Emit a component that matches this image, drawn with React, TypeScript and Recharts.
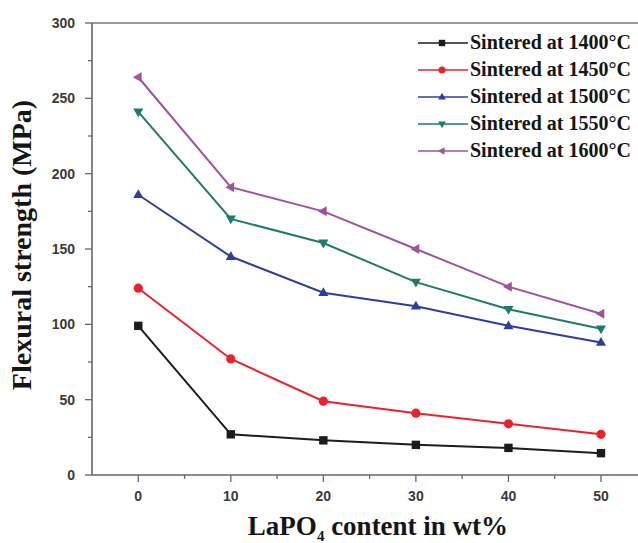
import React from 'react';
import { LineChart, Line, XAxis, YAxis, ReferenceLine } from 'recharts';

const contents = [0, 10, 20, 30, 40, 50];
const s1400 = [99, 27, 23, 20, 18, 14.5];
const s1450 = [124, 77, 49, 41, 34, 27];
const s1500 = [186, 145, 121, 112, 99, 88];
const s1550 = [241, 170, 154, 128, 110, 97];
const s1600 = [264, 191, 175, 150, 125, 107];

const seriesNames = [
  'Sintered at 1400°C',
  'Sintered at 1450°C',
  'Sintered at 1500°C',
  'Sintered at 1550°C',
  'Sintered at 1600°C',
];
const seriesKeys = ['s1400', 's1450', 's1500', 's1550', 's1600'];
const seriesValues = [s1400, s1450, s1500, s1550, s1600];
const colors = ['#1c1c1c', '#e8232b', '#2d3f9c', '#1d7a6c', '#a0529b'];
const shapes = ['square', 'circle', 'triangleUp', 'triangleDown', 'triangleLeft'];

const xTicks = [0, 5, 10, 15, 20, 25, 30, 35, 40, 45, 50];
const yTicks = [0, 25, 50, 75, 100, 125, 150, 175, 200, 225, 250, 275, 300];

const data = contents.map((c, i) => {
  const row: Record<string, number> = { x: c };
  seriesKeys.forEach((k, j) => {
    row[k] = seriesValues[j][i];
  });
  return row;
});

function Marker({ shape, cx, cy, color, r }: { shape: string; cx: number; cy: number; color: string; r: number }) {
  if (cx == null || cy == null) return null;
  switch (shape) {
    case 'square':
      return <rect x={cx - r} y={cy - r} width={2 * r} height={2 * r} fill={color} />;
    case 'circle':
      return <circle cx={cx} cy={cy} r={r * 1.1} fill={color} />;
    case 'triangleUp':
      return (
        <polygon
          points={`${cx},${cy - r * 1.3} ${cx - r * 1.2},${cy + r * 0.8} ${cx + r * 1.2},${cy + r * 0.8}`}
          fill={color}
        />
      );
    case 'triangleDown':
      return (
        <polygon
          points={`${cx},${cy + r * 1.3} ${cx - r * 1.2},${cy - r * 0.8} ${cx + r * 1.2},${cy - r * 0.8}`}
          fill={color}
        />
      );
    case 'triangleLeft':
    default:
      return (
        <polygon
          points={`${cx - r * 1.3},${cy} ${cx + r * 0.8},${cy - r * 1.2} ${cx + r * 0.8},${cy + r * 1.2}`}
          fill={color}
        />
      );
  }
}

const XTick = (props: any) => {
  const { x, y, payload } = props;
  const major = payload.value % 10 === 0;
  return (
    <g>
      <line x1={x} x2={x} y1={y} y2={y + (major ? 7 : 4)} stroke="#666" strokeWidth={1.3} />
      {major && (
        <text
          x={x}
          y={y + 26}
          textAnchor="middle"
          fontFamily="'Liberation Sans', Arial, sans-serif"
          fontWeight="bold"
          fontSize={14}
          fill="#3a3a3a"
        >
          {payload.value}
        </text>
      )}
    </g>
  );
};

const YTick = (props: any) => {
  const { x, y, payload } = props;
  const major = payload.value % 50 === 0;
  return (
    <g>
      <line x1={x - (major ? 7 : 4)} x2={x} y1={y} y2={y} stroke="#666" strokeWidth={1.3} />
      {major && (
        <text
          x={x - 17}
          y={y + 5}
          textAnchor="end"
          fontFamily="'Liberation Sans', Arial, sans-serif"
          fontWeight="bold"
          fontSize={14}
          fill="#3a3a3a"
        >
          {payload.value}
        </text>
      )}
    </g>
  );
};

const LegendBox = () => (
  <div style={{ position: 'absolute', top: 29, left: 416, width: 222 }}>
    {seriesNames.map((name, i) => (
      <div key={name} style={{ display: 'flex', alignItems: 'center', height: 27 }}>
        <svg width={54} height={16} style={{ display: 'block' }}>
          <line x1={2} x2={52} y1={8} y2={8} stroke={colors[i]} strokeWidth={1.6} />
          <Marker shape={shapes[i]} cx={26} cy={8} color={colors[i]} r={3.2} />
        </svg>
        <span
          style={{
            fontFamily: "'Liberation Serif', 'Times New Roman', serif",
            fontWeight: 'bold',
            fontSize: 20,
            color: '#151515',
            lineHeight: '27px',
            whiteSpace: 'nowrap',
          }}
        >
          {name}
        </span>
      </div>
    ))}
  </div>
);

export default function App() {
  return (
    <div style={{ position: 'absolute', left: 0, top: 0, width: 638, height: 543, background: '#fff', overflow: 'hidden' }}>
      <LineChart width={638} height={543} data={data} margin={{ top: 23, right: 0, left: 0, bottom: 0 }}>
        <XAxis
          type="number"
          dataKey="x"
          domain={[-5, 54]}
          ticks={xTicks}
          interval={0}
          height={68}
          tickSize={0}
          tickMargin={0}
          tickLine={false}
          axisLine={{ stroke: '#666', strokeWidth: 1.6 }}
          tick={<XTick />}
          label={{
            content: () => (
              <text
                x={378}
                y={535}
                textAnchor="middle"
                fontFamily="'Liberation Serif', 'Times New Roman', serif"
                fontWeight="bold"
                fontSize={27}
                fill="#151515"
              >
                LaPO
                <tspan fontSize={15} dy={6}>4</tspan>
                <tspan dy={-6}>{'  content in wt%'}</tspan>
              </text>
            ),
          }}
        />
        <YAxis
          type="number"
          domain={[0, 300]}
          ticks={yTicks}
          interval={0}
          width={92}
          tickSize={0}
          tickMargin={0}
          tickLine={false}
          axisLine={{ stroke: '#666', strokeWidth: 1.6 }}
          tick={<YTick />}
          label={{
            content: () => (
              <text
                x={31}
                y={245}
                transform="rotate(-90 31 245)"
                textAnchor="middle"
                fontFamily="'Liberation Serif', 'Times New Roman', serif"
                fontWeight="bold"
                fontSize={28}
                fill="#151515"
              >
                Flexural strength (MPa)
              </text>
            ),
          }}
        />
        <ReferenceLine y={300} stroke="#777" strokeWidth={1.6} />
        {seriesKeys.map((k, i) => (
          <Line
            key={k}
            type="linear"
            dataKey={k}
            name={seriesNames[i]}
            stroke={colors[i]}
            strokeWidth={2}
            isAnimationActive={false}
            dot={(p: any) => (
              <Marker key={`${k}-${p.index}`} shape={shapes[i]} cx={p.cx} cy={p.cy} color={colors[i]} r={4.2} />
            )}
            activeDot={false}
          />
        ))}
      </LineChart>
      <LegendBox />
    </div>
  );
}
